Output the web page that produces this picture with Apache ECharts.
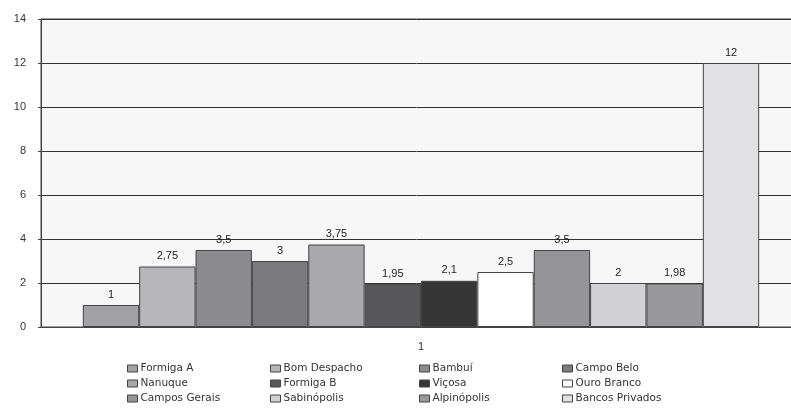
<!DOCTYPE html>
<html>
<head>
    <meta charset="utf-8">
    <title>Formiga A ... Bancos Privados</title>
    <script src="https://cdn.jsdelivr.net/npm/echarts@6/dist/echarts.min.js"></script>
</head>
<body style="margin:0;background:#fff">
<div id="main" style="width:791px;height:416px;"></div>
<script type="text/javascript">
    // dados
    var categorias = ['1'];
    var nomes = ['Formiga A', 'Bom Despacho', 'Bambuí', 'Campo Belo',
        'Nanuque', 'Formiga B', 'Viçosa', 'Ouro Branco',
        'Campos Gerais', 'Sabinópolis', 'Alpinópolis', 'Bancos Privados'];
    var valores = [1, 2.75, 3.5, 3, 3.75, 1.95, 2.1, 2.5, 3.5, 2, 1.98, 12];
    var eixoY = [0, 2, 4, 6, 8, 10, 12, 14];

    // cores (tons de cinza)
    var cores = ['#a2a2a4', '#b7b7b9', '#8c8c8e', '#7b7b7d', '#a9a9ab', '#58585a',
        '#363636', '#ffffff', '#959597', '#d2d2d4', '#99999b', '#e1e1e3'];

    var myChart = echarts.init(document.getElementById('main'));

    var series = nomes.map(function (nome, i) {
        return {
            name: nome,
            type: 'bar',
            data: [valores[i]],
            barGap: '0%',
            barCategoryGap: '11%',
            itemStyle: {
                color: cores[i],
                borderColor: '#444',
                borderWidth: 1
            },
            label: {
                show: true,
                position: 'top',
                distance: 5,
                color: '#222',
                fontFamily: 'Liberation Sans',
                fontSize: 11,
                formatter: function (p) {
                    return String(p.value).replace('.', ',');
                }
            }
        };
    });

    // legenda em 4 colunas
    var colunasX = [122, 265, 414, 557];
    var legendas = colunasX.map(function (x, c) {
        return {
            orient: 'vertical',
            left: x,
            top: 358,
            itemWidth: 10,
            itemHeight: 7,
            itemGap: 4,
            icon: 'rect',
            itemStyle: { borderColor: '#444', borderWidth: 1 },
            data: [nomes[c], nomes[c + 4], nomes[c + 8]],
            textStyle: {
                fontFamily: 'DejaVu Sans',
                fontSize: 10.5,
                color: '#333',
                padding: [0, 0, 0, -2]
            }
        };
    });

    myChart.setOption({
        animation: false,
        backgroundColor: '#fff',
        grid: {
            left: 41,
            width: 760,
            top: 19,
            bottom: 89,
            outerBoundsMode: 'none',
            show: true,
            backgroundColor: '#f7f7f7',
            borderColor: '#444',
            borderWidth: 1
        },
        legend: legendas,
        xAxis: {
            type: 'category',
            data: categorias,
            axisLine: { lineStyle: { color: '#444' } },
            axisTick: { show: false },
            axisLabel: {
                margin: 14,
                color: '#333',
                fontFamily: 'Liberation Sans',
                fontSize: 11
            }
        },
        yAxis: {
            type: 'value',
            min: eixoY[0],
            max: eixoY[eixoY.length - 1],
            interval: 2,
            axisLine: { show: true, lineStyle: { color: '#444' } },
            axisTick: { show: true, length: 3, lineStyle: { color: '#444' } },
            axisLabel: {
                margin: 15,
                color: '#333',
                fontFamily: 'Liberation Sans',
                fontSize: 11
            },
            splitLine: { lineStyle: { color: '#333', width: 1 } }
        },
        series: series
    });
</script>
</body>
</html>
